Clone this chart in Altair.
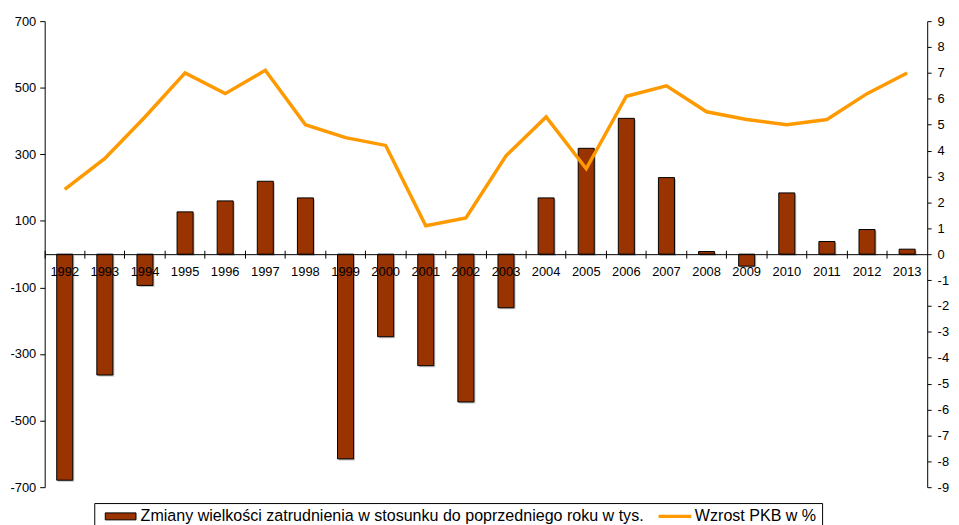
import altair as alt
import pandas as pd

years = [str(y) for y in range(1992, 2014)]
employment_change = [-679, -363, -94, 127, 160, 219, 169, -615, -248, -335, -444,
                     -161, 169, 318, 408, 230, 8, -36, 184, 38, 74, 15]
gdp_growth = [2.5, 3.7, 5.3, 7.0, 6.2, 7.1, 5.0, 4.5, 4.2, 1.1, 1.4,
              3.8, 5.3, 3.3, 6.1, 6.5, 5.5, 5.2, 5.0, 5.2, 6.2, 7.0]
left_ticks = [-700, -500, -300, -100, 100, 300, 500, 700]
right_ticks = list(range(-9, 10))

S1 = "Zmiany wielkości zatrudnienia w stosunku do poprzedniego roku w tys."
S2 = "Wzrost PKB w %"
series_names = [S1, S2]
BAR_COLOR = "#993300"
LINE_COLOR = "#FF9900"

df_bar = pd.DataFrame({"year": years, "value": employment_change, "series": S1})
df_line = pd.DataFrame({"year": years, "value": gdp_growth, "series": S2})
df_legend = pd.DataFrame({"series": series_names})

FONT = "Liberation Sans"
xscale = alt.Scale(type="band", domain=years, paddingInner=0, paddingOuter=0)
yscale_left = alt.Scale(domain=[-700, 700], nice=False, zero=False)


def make_legend():
    return alt.Legend(
        title=None, orient="none", legendX=50, legendY=486, direction="horizontal",
        strokeColor="black", fillColor="white", padding=5,
        labelFont=FONT, labelFontSize=16.2, labelColor="black", labelLimit=1000,
        symbolSize=100, symbolOffset=13.5, labelOffset=12,
        columnPadding=7, symbolOpacity=1,
    )


shadow = alt.Chart(df_bar).mark_bar(
    width=alt.RelativeBandSize(0.4), color="#9a9a9a", opacity=0.6,
    xOffset=1.5, yOffset=1.5,
).encode(
    x=alt.X("year:O", scale=xscale, sort=None, axis=None),
    y=alt.Y("value:Q", scale=yscale_left, axis=None),
)

bars = alt.Chart(df_bar).mark_bar(
    width=alt.RelativeBandSize(0.4), stroke="black", strokeWidth=1, opacity=1,
    color=BAR_COLOR,
).encode(
    x=alt.X("year:O", scale=xscale, sort=None,
            axis=alt.Axis(title=None, orient="bottom", offset=-235, ticks=False, tickSize=0,
                          domain=True, domainColor="black", domainWidth=1,
                          labelAngle=0, labelFont=FONT, labelFontSize=13,
                          labelColor="black", labelPadding=12, zindex=2)),
    y=alt.Y("value:Q", scale=yscale_left,
            axis=alt.Axis(title=None, orient="left", values=left_ticks, grid=False,
                          tickSize=5, tickColor="black", domainColor="black",
                          labelFont=FONT, labelFontSize=13, labelColor="black",
                          labelPadding=4, labelExpr="'' + datum.value")),
)

line = alt.Chart(df_line).mark_line(strokeWidth=3.5, color=LINE_COLOR).encode(
    x=alt.X("year:O", scale=xscale, sort=None,
            axis=alt.Axis(title=None, orient="bottom", offset=-239, labels=False,
                          domain=False, ticks=True, tickSize=8, bandPosition=0,
                          tickColor="black", zindex=2)),
    y=alt.Y("value:Q", scale=alt.Scale(domain=[-9, 9], nice=False, zero=False),
            axis=alt.Axis(title=None, orient="right", values=right_ticks, grid=False,
                          tickSize=4, tickColor="black", domainColor="black",
                          labelFont=FONT, labelFontSize=13, labelColor="black",
                          labelPadding=6, labelExpr="'' + datum.value")),
)

# legend-only layer (no visible marks): one framed legend with a bar swatch and a line swatch
legend_layer = alt.Chart(df_legend).transform_filter("false").mark_point(
    filled=True, opacity=1
).encode(
    fill=alt.Fill("series:N", scale=alt.Scale(domain=series_names,
                                              range=[BAR_COLOR, "transparent"]),
                  legend=make_legend()),
    stroke=alt.Stroke("series:N", scale=alt.Scale(domain=series_names,
                                                  range=["black", LINE_COLOR]),
                      legend=make_legend()),
    shape=alt.Shape("series:N", scale=alt.Scale(
        domain=series_names,
        range=["M-3.1,-0.7H3.1V0.7H-3.1Z", "M-3.3,0H3.3"]),
        legend=make_legend()),
    strokeWidth=alt.StrokeWidth("series:N", scale=alt.Scale(domain=series_names,
                                                            range=[1, 3.5]),
                                legend=make_legend()),
)

chart = alt.layer(shadow, bars, line, legend_layer).resolve_scale(
    y="independent"
).resolve_axis(
    x="independent"
).properties(
    width=890, height=470,
    autosize=alt.AutoSizeParams(type="none"),
    padding={"left": 37, "top": 11, "right": 24, "bottom": 50},
).configure_view(stroke=None)

chart.save("out.html", embed_options={"renderer": "svg", "actions": False})
